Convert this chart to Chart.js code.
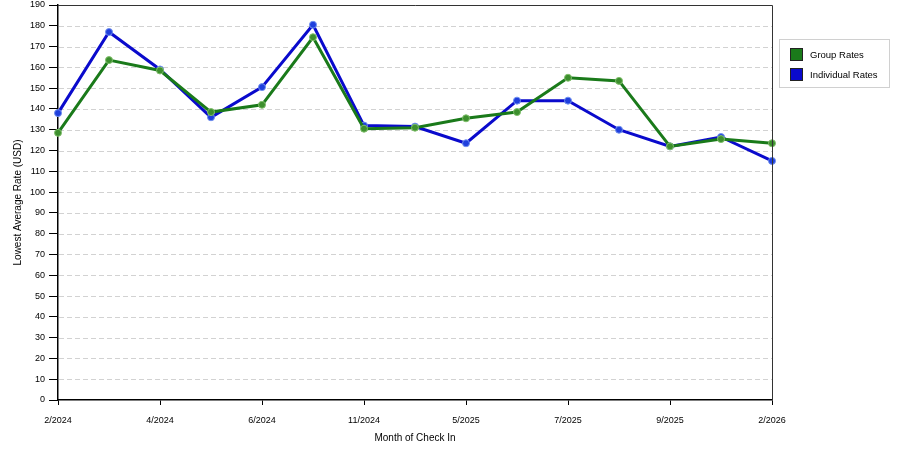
<!DOCTYPE html>
<html>
<head>
<meta charset="utf-8">
<script src="https://cdn.jsdelivr.net/npm/chart.js@4/dist/chart.umd.min.js"></script>
<style>
html,body{margin:0;padding:0;background:#fff;}
#wrap{width:900px;height:450px;position:relative;}
</style>
</head>
<body>
<div id="wrap"><canvas id="c" width="900" height="450"></canvas></div>
<script>
const months = ["2/2024","3/2024","4/2024","5/2024","6/2024","8/2024","11/2024","3/2025","5/2025","6/2025","7/2025","8/2025","9/2025","10/2025","2/2026"];
const groupRates = [128.5,163.5,158.5,138.5,142,174.5,130.5,131,135.5,138.5,155,153.5,122,125.5,123.5];
const individualRates = [138,177,159,136,150.5,180.5,132,131.5,123.5,144,144,130,122,126.5,115];
const seriesNames = ["Group Rates","Individual Rates"];
const yTitle = "Lowest Average Rate (USD)";
const xTitle = "Month of Check In";

const FONT = "'Liberation Sans', Arial, sans-serif";

const frameAndLegend = {
  id: 'frameAndLegend',
  beforeDatasetsDraw(chart) {
    const ctx = chart.ctx;
    const a = chart.chartArea;
    const ys = chart.scales.y;
    ctx.save();
    ctx.strokeStyle = '#d2d2d2';
    ctx.lineWidth = 1;
    ctx.setLineDash([5, 3]);
    ys.ticks.forEach(t => {
      if (t.value === 0 || t.value === 190) return;
      const y = Math.round(ys.getPixelForValue(t.value)) + 0.5;
      ctx.beginPath();
      ctx.moveTo(a.left + 1, y);
      ctx.lineTo(a.right, y);
      ctx.stroke();
    });
    ctx.restore();
  },
  afterDraw(chart) {
    const ctx = chart.ctx;
    const a = chart.chartArea;
    ctx.save();
    ctx.strokeStyle = '#333';
    ctx.lineWidth = 1;
    ctx.beginPath();
    ctx.moveTo(a.left, Math.round(a.top) + 0.5);
    ctx.lineTo(Math.round(a.right) + 0.5, Math.round(a.top) + 0.5);
    ctx.lineTo(Math.round(a.right) + 0.5, a.bottom);
    ctx.stroke();
    const lx = 779.5, ly = 39.5, lw = 110, lh = 48;
    ctx.strokeStyle = '#d0d0d0';
    ctx.strokeRect(lx, ly, lw, lh);
    ctx.font = "9.5px " + FONT;
    ctx.textBaseline = 'middle';
    chart.data.datasets.forEach((ds, i) => {
      const y = 54 + i * 20;
      ctx.fillStyle = ds.borderColor;
      ctx.fillRect(790, y - 6, 12, 12);
      ctx.strokeStyle = '#222';
      ctx.strokeRect(790.5, y - 5.5, 12, 12);
      ctx.fillStyle = '#000';
      ctx.fillText(ds.label, 810, y + 1);
    });
    ctx.restore();
  }
};

new Chart(document.getElementById('c'), {
  type: 'line',
  data: {
    labels: months,
    datasets: [
      {
        label: seriesNames[0],
        data: groupRates,
        borderColor: '#1a7a1a',
        backgroundColor: '#1a7a1a',
        borderWidth: 3,
        pointRadius: 3.5,
        pointBackgroundColor: '#3d8f2e',
        pointBorderColor: '#7fbf6a',
        pointBorderWidth: 1,
        tension: 0,
        clip: false
      },
      {
        label: seriesNames[1],
        data: individualRates,
        borderColor: '#0a0acc',
        backgroundColor: '#0a0acc',
        borderWidth: 3,
        pointRadius: 3.5,
        pointBackgroundColor: '#1f3fdd',
        pointBorderColor: '#6f8fee',
        pointBorderWidth: 1,
        tension: 0,
        clip: false
      }
    ]
  },
  options: {
    responsive: false,
    animation: false,
    devicePixelRatio: 1,
    layout: { padding: { left: 0, right: 128, top: 0, bottom: 0 } },
    plugins: {
      legend: { display: false },
      tooltip: { enabled: false }
    },
    scales: {
      x: {
        type: 'category',
        offset: false,
        grid: {
          display: true,
          drawOnChartArea: false,
          drawTicks: true,
          tickLength: 5,
          tickColor: (c) => (c.index % 2 === 0 ? '#000' : 'rgba(0,0,0,0)'),
          color: '#000'
        },
        border: { display: true, color: '#000', width: 1.5 },
        ticks: {
          autoSkip: false,
          maxRotation: 0,
          padding: 10,
          color: '#000',
          font: { family: FONT, size: 9 },
          callback: function(v, i) { return i % 2 === 0 ? this.getLabelForValue(v) : ''; }
        },
        title: {
          display: true,
          text: xTitle,
          color: '#000',
          font: { family: FONT, size: 10 },
          padding: { top: 4, bottom: 6 }
        },
        afterFit: (s) => { s.height = 50; }
      },
      y: {
        min: 0,
        max: 190,
        grid: {
          display: true,
          drawOnChartArea: false,
          drawTicks: true,
          tickLength: 9,
          tickColor: '#000'
        },
        border: { display: true, color: '#000', width: 1.5 },
        ticks: {
          stepSize: 10,
          padding: 4,
          color: '#000',
          font: { family: FONT, size: 9 }
        },
        title: {
          display: true,
          text: yTitle,
          color: '#000',
          font: { family: FONT, size: 10 },
          padding: { top: 12, bottom: 0 }
        },
        afterFit: (s) => { s.width = 58; s.paddingTop = 4; }
      }
    }
  },
  plugins: [frameAndLegend]
});
</script>
</body>
</html>
